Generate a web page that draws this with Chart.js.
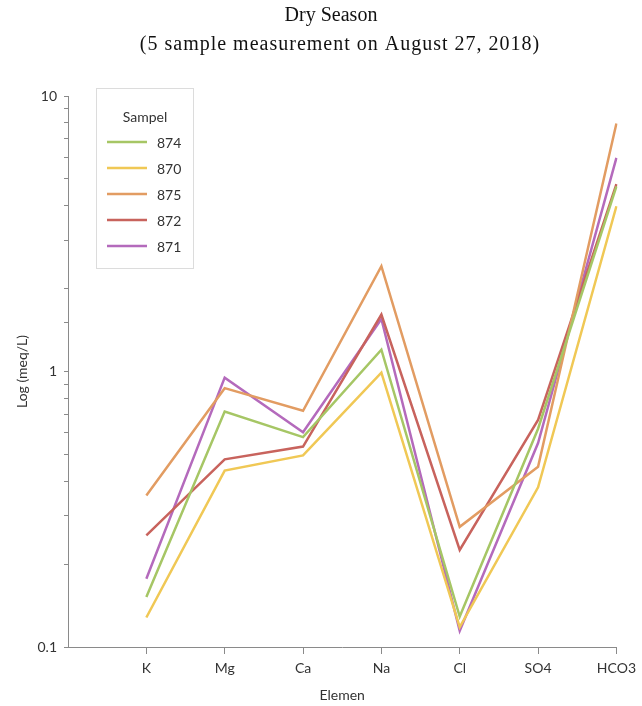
<!DOCTYPE html>
<html>
<head>
<meta charset="utf-8">
<script src="https://cdn.jsdelivr.net/npm/chart.js@4.4.1/dist/chart.umd.min.js"></script>
<style>
  html, body { margin: 0; padding: 0; background: #fff; }
  #wrap { width: 642px; height: 706px; }
</style>
</head>
<body>
<div id="wrap"><canvas id="myChart"></canvas></div>
<script>
// elements on the x axis
const categories = ['K', 'Mg', 'Ca', 'Na', 'Cl', 'SO4', 'HCO3'];

// log (meq/L) per sample
const s874 = [0.152, 0.716, 0.578, 1.20, 0.129, 0.62, 4.7];
const s870 = [0.128, 0.437, 0.496, 0.99, 0.118, 0.38, 3.98];
const s875 = [0.355, 0.87, 0.72, 2.41, 0.273, 0.451, 7.95];
const s872 = [0.254, 0.48, 0.534, 1.61, 0.225, 0.667, 4.79];
const s871 = [0.177, 0.95, 0.602, 1.55, 0.1146, 0.55, 5.96];

const sampleNames = ['874', '870', '875', '872', '871'];
const sampleColors = ['#a6c665', '#f0c855', '#e29c62', '#c8635d', '#b46abc'];
const yLabelTicks = [0.1, 1, 10];
const titleLines = ['Dry Season', '(5 sample measurement on August 27, 2018)'];

// blank slot before K so the first element sits one step in from the axis
const labels = [''].concat(categories);

function makeSet(i, values) {
    return {
        label: sampleNames[i],
        data: [null].concat(values),
        borderColor: sampleColors[i],
        backgroundColor: sampleColors[i],
        borderWidth: 2.5,
        pointRadius: 0,
        tension: 0
    };
}

// two line title, the second one a bit letter spaced like the scan
const titleText = {
    id: 'titleText',
    afterDraw(chart) {
        const ctx = chart.ctx;
        ctx.save();
        ctx.fillStyle = '#111';
        ctx.textAlign = 'center';
        ctx.textBaseline = 'middle';
        ctx.font = '20px "Liberation Serif"';
        ctx.fillText(titleLines[0], 331, 16);
        ctx.letterSpacing = '1px';
        ctx.fillText(titleLines[1], 340, 45);
        ctx.restore();
    }
};

// legend box drawn inside the plot, top left
const boxLegend = {
    id: 'boxLegend',
    afterDraw(chart) {
        const ctx = chart.ctx;
        const x = 96, y = 88, w = 97, h = 180;
        ctx.save();
        ctx.fillStyle = '#fff';
        ctx.fillRect(x, y, w, h);
        ctx.strokeStyle = '#dcdcdc';
        ctx.lineWidth = 1;
        ctx.strokeRect(x + 0.5, y + 0.5, w, h);
        ctx.fillStyle = '#333';
        ctx.font = '14px Lato';
        ctx.textAlign = 'center';
        ctx.textBaseline = 'middle';
        ctx.fillText('Sampel', x + 49, 117);
        ctx.textAlign = 'left';
        ctx.font = '14px Lato';
        chart.data.datasets.forEach(function(ds, i) {
            const ly = 142 + i * 26;
            ctx.strokeStyle = ds.borderColor;
            ctx.lineWidth = 2.5;
            ctx.beginPath();
            ctx.moveTo(107, ly);
            ctx.lineTo(147, ly);
            ctx.stroke();
            ctx.fillStyle = '#333';
            ctx.fillText(ds.label, 157, ly + 1);
        });
        ctx.restore();
    }
};

const ctx = document.getElementById('myChart').getContext('2d');
const myChart = new Chart(ctx, {
    type: 'line',
    data: {
        labels: labels,
        datasets: [
            makeSet(0, s874),
            makeSet(1, s870),
            makeSet(2, s875),
            makeSet(3, s872),
            makeSet(4, s871)
        ]
    },
    options: {
        responsive: true,
        maintainAspectRatio: false,
        animation: false,
        layout: { padding: { left: 14, right: 22, top: 96, bottom: 0 } },
        plugins: {
            legend: { display: false },
            tooltip: { enabled: false },
            title: { display: false }
        },
        scales: {
            x: {
                type: 'category',
                offset: false,
                grid: {
                    drawOnChartArea: false,
                    tickLength: 7,
                    tickColor: function(c) { return c.index === 0 ? 'rgba(0,0,0,0)' : '#8a8a8a'; }
                },
                border: { color: '#8a8a8a', width: 1 },
                ticks: {
                    color: '#333',
                    font: { family: 'Lato', size: 14 },
                    maxRotation: 0,
                    autoSkip: false,
                    padding: 6
                },
                title: {
                    display: true,
                    text: 'Elemen',
                    color: '#333',
                    font: { family: 'Lato', size: 14 },
                    padding: { top: 0, bottom: 2 }
                },
                afterFit: function(scale) { scale.height = 59; }
            },
            y: {
                type: 'logarithmic',
                min: 0.1,
                max: 10,
                grid: {
                    drawOnChartArea: false,
                    tickLength: 4,
                    tickColor: '#8a8a8a'
                },
                border: { color: '#8a8a8a', width: 1 },
                ticks: {
                    color: '#333',
                    font: { family: 'Lato', size: 14 },
                    autoSkip: false,
                    padding: 7,
                    callback: function(value) {
                        return yLabelTicks.indexOf(Number(value.toPrecision(3))) >= 0 ? String(value) : '';
                    }
                },
                title: {
                    display: true,
                    text: 'Log (meq/L)',
                    color: '#333',
                    font: { family: 'Lato', size: 14 },
                    padding: { top: 0, bottom: 0 }
                },
                afterFit: function(scale) { scale.width = 54; }
            }
        }
    },
    plugins: [titleText, boxLegend]
});
</script>
</body>
</html>
